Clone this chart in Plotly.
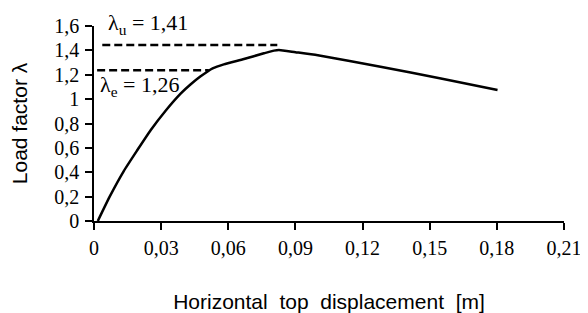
import plotly.graph_objects as go

# Pushover curve
disp = [0.0017, 0.0070, 0.0133, 0.0193, 0.0253, 0.0320, 0.0387, 0.0431, 0.0475, 0.0506, 0.0530,
        0.0580, 0.0670, 0.0759, 0.0804, 0.0826, 0.0900, 0.1000, 0.1280, 0.1550, 0.1803]
load = [0.0, 0.200, 0.410, 0.580, 0.745, 0.905, 1.045, 1.120, 1.185, 1.225, 1.252,
        1.285, 1.329, 1.376, 1.398, 1.403, 1.385, 1.360, 1.265, 1.170, 1.075]

# Reference levels (dashed)
lu_x = [0.0037, 0.0819]
lu_y = [1.444, 1.444]
le_x = [0.0014, 0.0513]
le_y = [1.237, 1.237]

x_ticks = [0, 0.03, 0.06, 0.09, 0.12, 0.15, 0.18, 0.21]
x_labels = ["0", "0,03", "0,06", "0,09", "0,12", "0,15", "0,18", "0,21"]
y_ticks = [0, 0.2, 0.4, 0.6, 0.8, 1.0, 1.2, 1.4, 1.6]
y_labels = ["0", "0,2", "0,4", "0,6", "0,8", "1", "1,2", "1,4", "1,6"]

serif = "Liberation Serif"
sans = "Liberation Sans"

fig = go.Figure()
fig.add_trace(go.Scatter(x=lu_x, y=lu_y, mode="lines",
                         line=dict(color="black", width=2.5, dash="8px,4px"), showlegend=False))
fig.add_trace(go.Scatter(x=le_x, y=le_y, mode="lines",
                         line=dict(color="black", width=2.5, dash="8px,4px"), showlegend=False))
fig.add_trace(go.Scatter(x=disp, y=load, mode="lines", line_shape="spline",
                         line=dict(color="black", width=2.5, smoothing=0.5), showlegend=False))

fig.add_annotation(x=0.0055, y=1.6, yshift=2, xref="x", yref="y", xanchor="left", yanchor="middle",
                   text="λ<sub>u</sub> = 1,41", showarrow=False,
                   font=dict(family=serif, size=22, color="black"))
fig.add_annotation(x=0.0016, y=1.11, xref="x", yref="y", xanchor="left", yanchor="middle",
                   text="λ<sub>e</sub> = 1,26", showarrow=False,
                   font=dict(family=serif, size=22, color="black"))

# the page body adds an 8px offset, so the figure is 8px smaller than the window
fig.update_layout(
    width=580, height=305,
    margin=dict(l=86, r=24, t=18, b=92),
    paper_bgcolor="white", plot_bgcolor="white",
    xaxis=dict(range=[0, 0.21], tickvals=x_ticks, ticktext=x_labels, automargin=False,
               showgrid=False, zeroline=False, showline=True, linecolor="black", linewidth=1.5,
               ticks="outside", ticklen=7, tickwidth=1.5, tickcolor="black",
               ticklabelstandoff=1,
               tickfont=dict(family=serif, size=20, color="black"),
               title=dict(text="Horizontal\u00a0 top\u00a0 displacement\u00a0 [m]",
                          font=dict(family=sans, size=21, color="black"), standoff=37)),
    yaxis=dict(range=[0, 1.6], tickvals=y_ticks, ticktext=y_labels, automargin=False,
               showgrid=False, zeroline=False, showline=True, linecolor="black", linewidth=1.5,
               ticks="outside", ticklen=7, tickwidth=1.5, tickcolor="black",
               ticklabelstandoff=2,
               tickfont=dict(family=serif, size=20, color="black"),
               title=dict(text="Load factor λ", font=dict(family=sans, size=21, color="black"),
                          standoff=22)),
)

fig.write_html("out.html")
